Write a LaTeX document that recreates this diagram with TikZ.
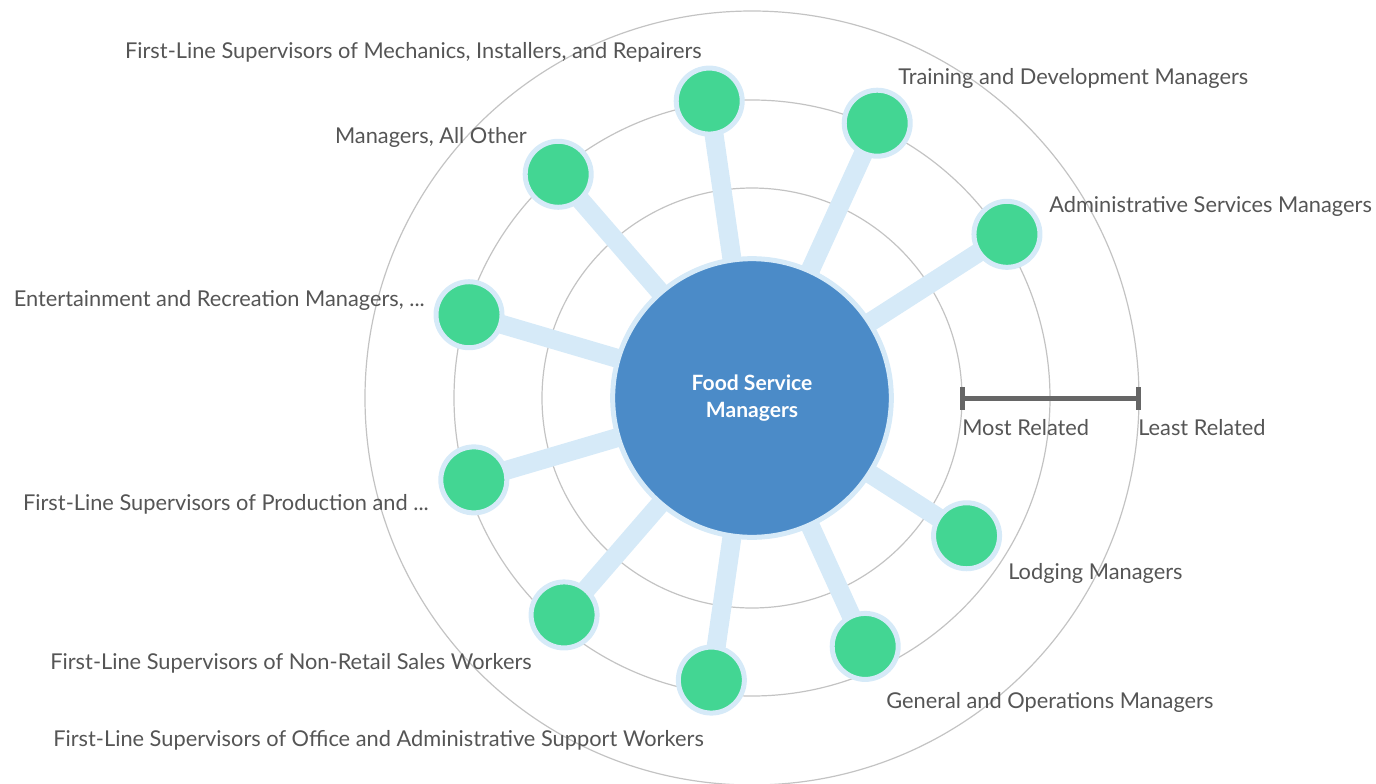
\documentclass[tikz,border=0pt]{standalone}
\usepackage{fontspec}
\setmainfont{Lato}
\usetikzlibrary{backgrounds}
\definecolor{jobgreen}{HTML}{43D693}
\definecolor{haze}{HTML}{D6EAF8}
\definecolor{hubblue}{HTML}{4B8BC8}
\definecolor{ringgray}{HTML}{C3C3C3}
\definecolor{textgray}{HTML}{555555}
\definecolor{bargray}{HTML}{666666}
\tikzset{
  ring/.style={draw=ringgray, line width=0.9pt},
  spoke/.style={draw=haze, line width=14.25pt},
  hub/.style={circle, fill=hubblue, draw=haze, line width=3.75pt, minimum size=209pt, inner sep=0pt,
    text=white, font=\bfseries\fontsize{15.8}{20}\selectfont, align=center},
  job/.style={circle, fill=jobgreen, draw=haze, line width=3.75pt, minimum size=49.5pt, inner sep=0pt},
  lbl/.style={text=textgray, font=\fontsize{16.35}{19}\selectfont, inner sep=0pt},
  scalebar/.style={draw=bargray, line width=3.75pt}
}

\begin{document}
\begin{tikzpicture}[x=0.75pt, y=0.75pt]
  \useasboundingbox (-752,-385) rectangle (624,398);

  \node[hub] (food) at (0,0) {Food Service\\Managers};
  \node[job] (mech)  at (98.2:300) {};
  \node[job] (train) at (65.5:302) {};
  \node[job] (admin) at (32.7:303) {};
  \node[job] (other) at (130.9:296) {};
  \node[job] (ent)   at (163.6:295) {};
  \node[job] (prod)  at (196.4:290) {};
  \node[job] (sales) at (229.1:287) {};
  \node[job] (office) at (261.8:285) {};
  \node[job] (gen)   at (294.5:273) {};
  \node[job] (lodge) at (327.3:255) {};

  \begin{pgfonlayer}{background}
    % rings
    \draw[ring] (food.center) circle (210);
    \draw[ring] (food.center) circle (298);
    \draw[ring] (food.center) circle (387);
    % spokes
    \draw[spoke] (food.center) -- (mech.center);
    \draw[spoke] (food.center) -- (train.center);
    \draw[spoke] (food.center) -- (admin.center);
    \draw[spoke] (food.center) -- (other.center);
    \draw[spoke] (food.center) -- (ent.center);
    \draw[spoke] (food.center) -- (prod.center);
    \draw[spoke] (food.center) -- (sales.center);
    \draw[spoke] (food.center) -- (office.center);
    \draw[spoke] (food.center) -- (gen.center);
    \draw[spoke] (food.center) -- (lodge.center);
  \end{pgfonlayer}

  % labels
  \node[lbl, anchor=east] (mechL)  at (-50,346)  {First-Line Supervisors of Mechanics, Installers, and Repairers};
  \node[lbl, anchor=west] (trainL) at (146,320)  {Training and Development Managers};
  \node[lbl, anchor=west] (adminL) at (297,192)  {Administrative Services Managers};
  \node[lbl, anchor=east] (otherL) at (-225,261) {Managers, All Other};
  \node[lbl, anchor=east] (entL)   at (-327,98) {Entertainment and Recreation Managers, ...};
  \node[lbl, anchor=east] (prodL)  at (-323,-106) {First-Line Supervisors of Production and ...};
  \node[lbl, anchor=east] (salesL) at (-220,-265) {First-Line Supervisors of Non-Retail Sales Workers};
  \node[lbl, anchor=east] (officeL) at (-48,-342) {First-Line Supervisors of Office and Administrative Support Workers};
  \node[lbl, anchor=west] (genL)   at (134,-304) {General and Operations Managers};
  \node[lbl, anchor=west] (lodgeL) at (256,-175) {Lodging Managers};

  % scale
  \coordinate (most) at (210,0);
  \coordinate (least) at (386,0);
  \draw[scalebar] (most) -- (least);
  \draw[scalebar] (most) ++ (0,11) --++ (0,-23);
  \draw[scalebar] (least) ++ (0,11) --++ (0,-23);
  \node[lbl, anchor=west] (mostL)  at (210,-30) {Most Related};
  \node[lbl, anchor=west] (leastL) at (386,-30) {Least Related};
\end{tikzpicture}
\end{document}
